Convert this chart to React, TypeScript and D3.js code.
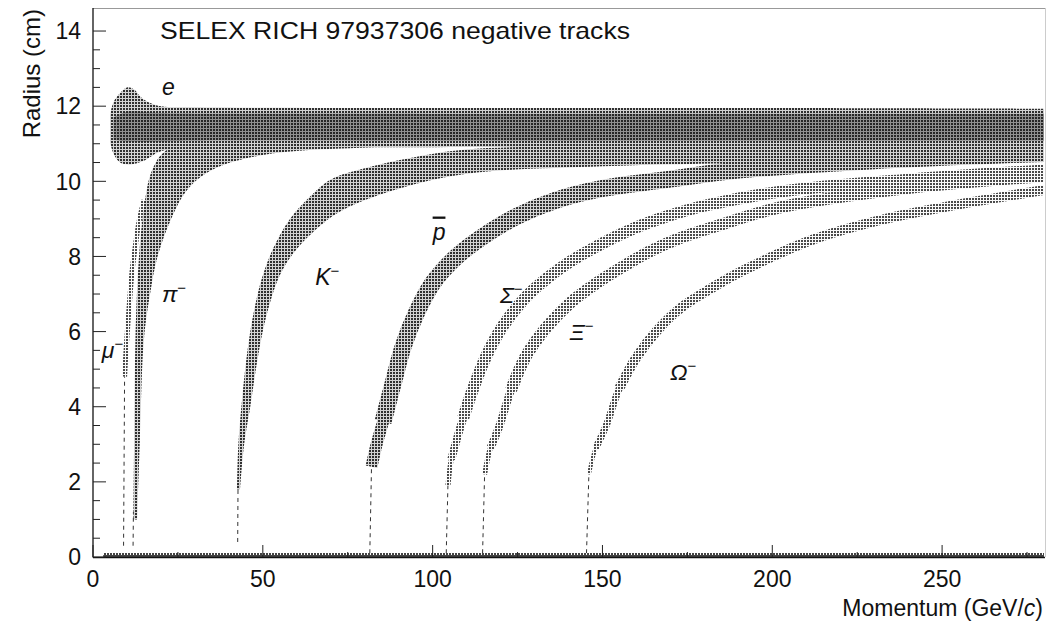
import * as d3 from "d3";

const W = 1046;
const H = 623;
const FONT = "'Liberation Sans', Arial, Helvetica, sans-serif";

// axis values
const xMajor = [0, 50, 100, 150, 200, 250];
const xMinor = [25, 75, 125, 175, 225, 275];
const yMajor = [0, 2, 4, 6, 8, 10, 12, 14];
const yMinor = [0.5, 1, 1.5, 2.5, 3, 3.5, 4.5, 5, 5.5, 6.5, 7, 7.5, 8.5, 9, 9.5, 10.5, 11, 11.5, 12.5, 13, 13.5];

// wide bands, edges: [momentum GeV/c, radius cm]
const eUpper = [[5, 11.75], [6, 12.1], [8, 12.35], [10, 12.5], [12, 12.45], [14, 12.25], [16, 12.12], [20, 12.0], [30, 11.97], [100, 11.95], [200, 11.95], [282, 11.93]];
const eLower = [[282, 10.95], [150, 10.92], [60, 10.9], [30, 10.88], [20, 10.8], [15, 10.55], [11, 10.45], [8, 10.5], [6, 10.75], [5, 11.05]];
const eCoreUpper = [[6, 11.7], [10, 11.85], [20, 11.82], [100, 11.8], [282, 11.8]];
const eCoreLower = [[282, 11.08], [100, 11.08], [30, 11.08], [12, 11.05], [6, 11.1]];

const piUpper = [[11.9, 1.0], [12.1, 3.0], [12.5, 5.8], [13.2, 7.5], [14.2, 8.7], [15.5, 9.6], [17, 10.2], [20, 10.7], [25, 11.0], [35, 11.25], [50, 11.4]];
const piLower = [[282, 11.05], [150, 11.0], [80, 10.9], [50, 10.7], [35, 10.3], [28, 9.8], [23, 9.0], [19, 8.0], [16.8, 7.0], [15.0, 5.8], [13.8, 3.1], [13.0, 1.0]];

const kUpper = [[42.4, 1.8], [42.8, 3.0], [43.9, 4.2], [45.5, 5.5], [47.3, 6.5], [50, 7.5], [53.5, 8.3], [58, 9.0], [64, 9.6], [70, 10.05], [80, 10.35], [95, 10.65], [110, 10.85], [150, 10.95], [200, 11.0], [282, 11.05]];
const kLower = [[282, 10.6], [200, 10.5], [150, 10.4], [110, 10.2], [90, 9.8], [75, 9.3], [68, 8.9], [60, 8.2], [55, 7.5], [51, 6.4], [48.5, 5.3], [46.3, 4.0], [44.5, 3.0], [43.3, 1.8]];

// narrow bands, centre lines
const muCentre = [[9.3, 4.8], [9.8, 5.6], [10.6, 6.6], [11.5, 7.6], [12.5, 8.3], [13.5, 8.9], [15, 9.5]];
const pbarCentre = [[82, 2.4], [83.5, 3.0], [85.4, 3.6], [88.3, 4.6], [91.3, 5.6], [95.2, 6.49], [100.1, 7.3], [107, 7.99], [114.8, 8.53], [124.6, 9.06], [136.4, 9.5], [150.1, 9.81], [167.7, 10.03], [190, 10.3], [230, 10.55], [282, 10.75]];
const sigmaCentre = [[104.5, 1.9], [105.5, 2.6], [107, 3.1], [109, 3.7], [112, 4.5], [115.8, 5.35], [120.7, 6.15], [127.6, 6.93], [133.4, 7.4], [140.3, 7.85], [148.1, 8.26], [158, 8.7], [167.7, 9.03], [180, 9.35], [202, 9.72], [241, 10.05], [282, 10.3]];
const xiCentre = [[115.3, 2.2], [117, 2.9], [119.7, 3.5], [123.1, 4.45], [127.5, 5.35], [133.4, 6.1], [140.3, 6.75], [148.1, 7.28], [156, 7.73], [163.8, 8.13], [172.6, 8.48], [185, 8.85], [202, 9.3], [240, 9.82], [282, 10.15]];
const omegaCentre = [[146, 2.2], [148, 2.9], [151.1, 3.5], [155, 4.5], [159.9, 5.3], [165.8, 6.0], [172.6, 6.6], [182, 7.15], [192, 7.65], [212, 8.45], [231, 8.95], [251, 9.32], [282, 9.8]];

// dashed stubs below each band: start momentum, start radius, end momentum, end radius
const dashP0 = [9.0, 11.8, 42.6, 81.5, 104.0, 114.7, 145.3];
const dashR0 = [0.3, 0.3, 0.4, 0.1, 0.1, 0.1, 0.1];
const dashP1 = [9.3, 11.9, 42.7, 82.0, 104.5, 115.3, 146.0];
const dashR1 = [4.8, 1.2, 1.9, 2.4, 1.9, 2.2, 2.2];

// zero-radius row
const zeroRow = [3, 282];

// labels: text, momentum, radius (baseline)
const labelText = ["e", "π", "μ", "K", "p", "Σ", "Ξ", "Ω"];
const labelSup = [false, true, true, true, false, true, true, true];
const labelP = [20.3, 20.3, 2.6, 65.4, 100, 119.8, 140.4, 169.9];
const labelR = [12.3, 6.8, 5.3, 7.25, 8.45, 6.75, 5.78, 4.7];

export default function App() {
  const x = d3.scaleLinear().domain([0, 280]).range([93, 1044]);
  const y = d3.scaleLinear().domain([0, 14.6]).range([557, 8.5]);

  const edge = d3
    .line<number[]>()
    .x((d) => x(d[0]))
    .y((d) => y(d[1]))
    .curve(d3.curveCatmullRom.alpha(0.5));
  const band = (up: number[][], lo: number[][]) =>
    (edge(up) || "") + "L" + (edge(lo) || "").slice(1) + "Z";

  const areas = [
    { d: band(kUpper, kLower), fill: "url(#pMid)" },
    { d: band(eUpper, eLower), fill: "url(#pMid)" },
    { d: band(piUpper, piLower), fill: "url(#pMid)" },
    { d: band(eCoreUpper, eCoreLower), fill: "url(#pDense)" },
  ];

  // narrow bands drawn as patterned strokes, thinner near threshold
  const taper = (pts: number[][], steps: number[][], fill: string) =>
    steps.map(([from, w]) => ({ d: edge(pts.slice(from)) || "", stroke: fill, w }));
  const strips = [
    ...taper(omegaCentre, [[0, 4], [1, 7], [3, 10]], "url(#pLight)"),
    ...taper(xiCentre, [[0, 5], [1, 8], [3, 12]], "url(#pLight)"),
    ...taper(sigmaCentre, [[0, 5], [1, 8], [3, 12]], "url(#pLight)"),
    ...taper(pbarCentre, [[0, 12], [2, 17]], "url(#pMid)"),
    ...taper(muCentre, [[0, 5]], "url(#pLight)"),
  ];

  return (
    <svg
      width={W}
      height={H}
      style={{ position: "absolute", left: 0, top: 0, background: "#fff" }}
      fontFamily={FONT}
    >
      <defs>
        <clipPath id="plotClip">
          <rect x={x(0)} y={y(14.6)} width={x(280) - x(0)} height={y(0) - y(14.6)} />
        </clipPath>
        <pattern id="pDense" width={3} height={3} patternUnits="userSpaceOnUse">
          <rect width={3} height={3} fill="#909090" />
          <rect width={2} height={2} fill="#262626" />
        </pattern>
        <pattern id="pMid" width={3} height={3} patternUnits="userSpaceOnUse">
          <rect width={3} height={3} fill="#d2d2d2" />
          <rect width={2} height={2} fill="#303030" />
        </pattern>
        <pattern id="pLight" width={3} height={3} patternUnits="userSpaceOnUse">
          <rect width={3} height={3} fill="#fafafa" />
          <rect width={2} height={2} fill="#4a4a4a" />
        </pattern>
        <pattern id="pRow" width={3} height={4} patternUnits="userSpaceOnUse">
          <rect width={3} height={4} fill="#444" />
          <rect x={1} y={1} width={1} height={2} fill="#fff" />
        </pattern>
      </defs>

      <g clipPath="url(#plotClip)">
        {strips.map((s, i) => (
          <path key={"s" + i} d={s.d} fill="none" stroke={s.stroke} strokeWidth={s.w} />
        ))}
        {areas.map((b, i) => (
          <path key={"a" + i} d={b.d} fill={b.fill} />
        ))}
        {dashP0.map((p, i) => (
          <line
            key={"d" + i}
            x1={x(p)}
            y1={y(dashR0[i])}
            x2={x(dashP1[i])}
            y2={y(dashR1[i])}
            stroke="#333"
            strokeWidth={1}
            strokeDasharray="4 4"
          />
        ))}
        <rect
          x={x(zeroRow[0])}
          y={y(0) - 4}
          width={x(zeroRow[1]) - x(zeroRow[0])}
          height={4}
          fill="url(#pRow)"
        />
      </g>

      {/* frame */}
      <line x1={x(0)} x2={1045} y1={8.5} y2={8.5} stroke="#999" />
      <line x1={1045.5} x2={1045.5} y1={8} y2={557} stroke="#ccc" />
      <line x1={x(0)} x2={x(0)} y1={8} y2={557.5} stroke="#111" strokeWidth={1.3} />
      <line x1={x(0)} x2={1045} y1={557.5} y2={557.5} stroke="#111" strokeWidth={1.3} />

      {/* y ticks */}
      {yMajor.map((v) => (
        <g key={"ym" + v}>
          <line x1={x(0)} x2={x(0) + 13} y1={y(v)} y2={y(v)} stroke="#222" />
          <text x={81} y={y(v)} dy="0.36em" textAnchor="end" fontSize={23} fill="#111">
            {v}
          </text>
        </g>
      ))}
      {yMinor.map((v) => (
        <line key={"yn" + v} x1={x(0)} x2={x(0) + 7} y1={y(v)} y2={y(v)} stroke="#222" />
      ))}

      {/* x ticks */}
      {xMajor.map((v) => (
        <g key={"xm" + v}>
          <line x1={x(v)} x2={x(v)} y1={y(0)} y2={y(0) - 12} stroke="#222" />
          <text x={x(v)} y={587} textAnchor="middle" fontSize={23} fill="#111">
            {v}
          </text>
        </g>
      ))}
      {xMinor.map((v) => (
        <line key={"xn" + v} x1={x(v)} x2={x(v)} y1={y(0)} y2={y(0) - 5} stroke="#222" />
      ))}

      {/* axis titles */}
      <text transform="translate(40,9) rotate(-90)" textAnchor="end" fontSize={24} fill="#111">
        Radius (cm)
      </text>
      <text x={1043} y={616} textAnchor="end" fontSize={23} fill="#111">
        Momentum (GeV/<tspan fontStyle="italic">c</tspan>)
      </text>

      {/* title */}
      <text x={160} y={39} fontSize={24} fill="#111" textLength={470} lengthAdjust="spacingAndGlyphs">
        SELEX RICH 97937306 negative tracks
      </text>

      {/* particle labels */}
      {labelText.map((t, i) => (
        <text
          key={"l" + i}
          x={x(labelP[i])}
          y={y(labelR[i])}
          fontSize={23}
          fontStyle="italic"
          fill="#111"
          style={t === "p" ? { textDecoration: "overline" } : undefined}
        >
          {t}
          {labelSup[i] && (
            <tspan fontSize={15} dy={-9} fontStyle="normal">
              −
            </tspan>
          )}
        </text>
      ))}
    </svg>
  );
}
